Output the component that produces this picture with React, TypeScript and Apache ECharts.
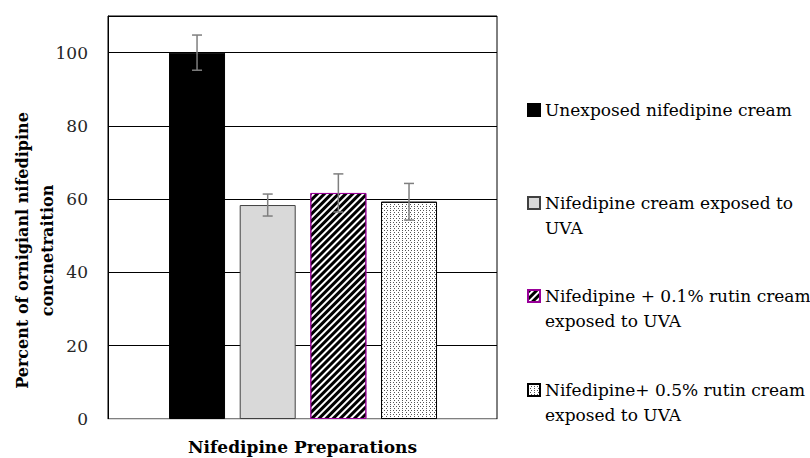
import React, { useEffect, useRef } from "react";
import * as echarts from "echarts";

const seriesNames = [
  "Unexposed nifedipine cream",
  "Nifedipine cream exposed to\nUVA",
  "Nifedipine + 0.1% rutin cream\nexposed to UVA",
  "Nifedipine+ 0.5% rutin cream\nexposed to UVA",
];
const meanValues = [100, 58.4, 61.7, 59.3];
const errorValues = [4.8, 3.0, 5.2, 5.0];
const yTicks = [0, 20, 40, 60, 80, 100];
const xTitle = "Nifedipine Preparations";
const yTitle = "Percent of ornigianl nifedipine\nconcnetraition";

const FONT = "DejaVu Serif";

export default function App() {
  const ref = useRef<HTMLDivElement>(null);
  useEffect(() => {
    document.body.style.margin = "0";
    const chart = echarts.init(ref.current!, undefined, { renderer: "svg" });

    const styles: any[] = [
      { color: "#000000", borderColor: "#000000", borderWidth: 1 },
      { color: "#d9d9d9", borderColor: "#404040", borderWidth: 1 },
      {
        color: "#ffffff",
        borderColor: "#990099",
        borderWidth: 1,
        decal: {
          symbol: "rect",
          symbolSize: 1,
          color: "#000000",
          backgroundColor: "#ffffff",
          dashArrayX: [1, 0],
          dashArrayY: [3, 2],
          rotation: -Math.PI / 4,
        },
      },
      {
        color: "#ffffff",
        borderColor: "#000000",
        borderWidth: 1,
        decal: {
          symbol: "rect",
          symbolSize: 1,
          color: "#555555",
          backgroundColor: "#ffffff",
          dashArrayX: [
            [1, 2],
            [0, 1.5, 1, 0.5],
          ],
          dashArrayY: [1, 1],
          rotation: 0,
        },
      },
    ];

    const barSeries = seriesNames.map((name, i) => ({
      type: "bar",
      name,
      data: [[i, meanValues[i]]],
      barWidth: 56,
      barGap: "-100%",
      itemStyle: styles[i],
      z: 2,
    }));

    const errData = meanValues.map((v, i) => [i, v - errorValues[i], v + errorValues[i]]);

    const legendTops = [97.5, 165.5, 258.5, 352.5];
    const legends = seriesNames.map((name, i) => ({
      data: [name],
      left: 527,
      top: legendTops[i],
      padding: 0,
      orient: "vertical",
      icon: "rect",
      itemWidth: 12,
      itemHeight: 12,
      itemGap: 5,
      selectedMode: false,
      formatter: (n: string) => (n.indexOf("\n") >= 0 ? "\n" + n : n),
      textStyle: {
        fontFamily: FONT,
        fontSize: 17,
        color: "#000",
        lineHeight: 25,
      },
    }));

    chart.setOption({
      animation: false,
      textStyle: { fontFamily: FONT },
      grid: {
        left: 108,
        top: 16,
        width: 389,
        height: 403,
        show: true,
        borderColor: "#000",
        borderWidth: 1,
        containLabel: false,
        outerBoundsMode: "none",
      },
      legend: legends,
      xAxis: {
        type: "value",
        min: -1.26,
        max: 4.245,
        name: xTitle,
        nameLocation: "middle",
        nameGap: 19,
        nameMoveOverlap: false,
        nameTextStyle: { fontFamily: FONT, fontSize: 17, fontWeight: "bold", color: "#000", verticalAlign: "top" },
        axisLine: { show: true, onZero: false, lineStyle: { color: "#d9d9d9", width: 1 } },
        axisTick: { show: false },
        axisLabel: { show: false },
        splitLine: { show: false },
      },
      yAxis: {
        type: "value",
        min: yTicks[0],
        max: 110,
        interval: 20,
        name: yTitle,
        nameLocation: "middle",
        nameGap: 48,
        nameMoveOverlap: false,
        nameTextStyle: {
          fontFamily: FONT,
          fontSize: 16,
          fontWeight: "bold",
          color: "#000",
          lineHeight: 25,
          padding: [0, 66, 0, 0],
        },
        axisLine: { show: true, onZero: false, lineStyle: { color: "#000", width: 1 } },
        axisTick: { show: false },
        axisLabel: {
          fontFamily: FONT,
          fontSize: 17,
          color: "#262626",
          margin: 20,
          showMaxLabel: false,
          formatter: (v: number) => (yTicks.indexOf(v) >= 0 ? String(v) : ""),
        },
        splitLine: { show: true, lineStyle: { color: "#000", width: 1 } },
      },
      series: [
        ...barSeries,
        {
          type: "custom",
          name: "error",
          data: errData,
          z: 5,
          encode: { x: 0, y: [1, 2] },
          renderItem: (params: any, api: any) => {
            const x = api.value(0);
            const lo = api.value(1);
            const hi = api.value(2);
            const top = api.coord([x, hi]);
            const bot = api.coord([x, lo]);
            const style = { stroke: "#7f7f7f", lineWidth: 1.5 };
            return {
              type: "group",
              children: [
                { type: "line", shape: { x1: top[0], y1: top[1], x2: bot[0], y2: bot[1] }, style },
                { type: "line", shape: { x1: top[0] - 5, y1: top[1], x2: top[0] + 5, y2: top[1] }, style },
                { type: "line", shape: { x1: bot[0] - 5, y1: bot[1], x2: bot[0] + 5, y2: bot[1] }, style },
              ],
            };
          },
        },
      ],
    });
    return () => chart.dispose();
  }, []);
  return <div ref={ref} style={{ width: 810, height: 458 }} />;
}
